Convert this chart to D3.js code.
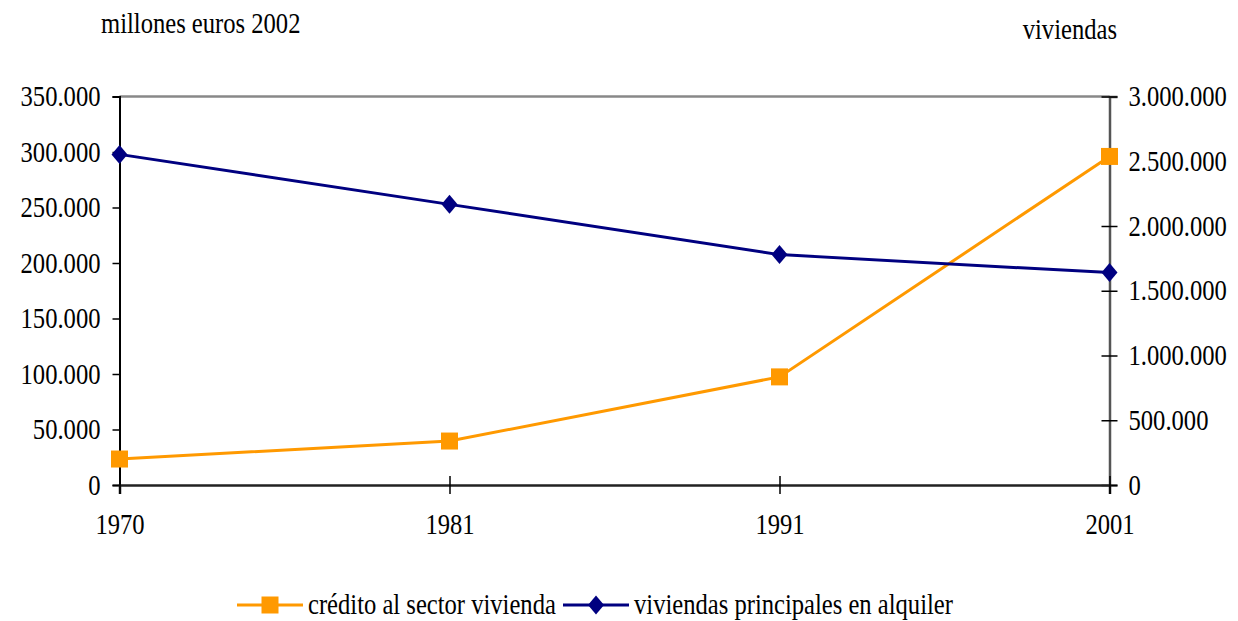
<!DOCTYPE html>
<html>
<head>
<meta charset="utf-8">
<script src="https://cdn.jsdelivr.net/npm/d3@7"></script>
<style>
  html, body { margin: 0; padding: 0; background: #fff; }
  svg { display: block; }
  svg text { font-family: "Liberation Serif", "Tinos", "DejaVu Serif", serif !important; fill: #000; }
</style>
</head>
<body>
<svg id="chart" width="1238" height="621"></svg>
<script>
// Years on the horizontal axis
const years = ["1970", "1981", "1991", "2001"];
// Housing credit, millions of 2002 euros (left axis)
const credito = [23400, 39600, 97400, 296000];
// Main dwellings under rent (right axis)
const viviendas = [2553000, 2167000, 1779000, 1640000];
// Axis ticks
const leftTicks = [0, 50000, 100000, 150000, 200000, 250000, 300000, 350000];
const rightTicks = [0, 500000, 1000000, 1500000, 2000000, 2500000, 3000000];

const svg = d3.select("#chart");
const m = { left: 119.5, right: 1109.5, top: 96.5, bottom: 485 };

const x = d3.scalePoint().domain(years).range([m.left, m.right]);
const yL = d3.scaleLinear().domain([0, 350000]).range([m.bottom, m.top]);
const yR = d3.scaleLinear().domain([0, 3000000]).range([m.bottom, m.top]);

const fmt = v => v === 0 ? "0" : d3.format(",")(v).replace(/,/g, ".");
const fontSize = 24.6;
const stretch = "scale(1,1.17)";   // glyphs are drawn slightly taller than wide

// Helper: free text label with its baseline at (tx, ty)
function label(tx, ty, str, anchor) {
  svg.append("g").attr("transform", `translate(${tx},${ty}) ${stretch}`)
    .append("text")
    .attr("font-size", fontSize)
    .attr("text-anchor", anchor || "start")
    .text(str);
}

// Top border of plot area
svg.append("line")
  .attr("x1", m.left).attr("x2", m.right)
  .attr("y1", m.top).attr("y2", m.top)
  .attr("stroke", "#888").attr("stroke-width", 2.5);

// Left axis
const gL = svg.append("g").attr("transform", `translate(${m.left},0)`)
  .call(d3.axisLeft(yL).tickValues(leftTicks).tickFormat(fmt).tickSize(7).tickPadding(12));
gL.select(".domain").attr("stroke", "#000").attr("stroke-width", 2);
gL.selectAll(".tick line").attr("stroke", "#000").attr("stroke-width", 1.5);
gL.selectAll("text").attr("font-size", fontSize).attr("transform", stretch);

// Right axis (ticks cross the axis line)
const gR = svg.append("g").attr("transform", `translate(${m.right},0)`)
  .call(d3.axisRight(yR).tickValues(rightTicks).tickFormat(fmt).tickSize(8).tickPadding(11));
gR.select(".domain").attr("stroke", "#555").attr("stroke-width", 2.5);
gR.selectAll(".tick line").attr("x1", -8).attr("stroke", "#000").attr("stroke-width", 1.5);
gR.selectAll("text").attr("font-size", fontSize).attr("transform", stretch);

// Bottom axis (ticks cross the axis line)
const gB = svg.append("g").attr("transform", `translate(0,${m.bottom})`)
  .call(d3.axisBottom(x).tickSize(9).tickPadding(15));
gB.select(".domain").attr("stroke", "#222").attr("stroke-width", 2.5);
gB.selectAll(".tick line").attr("y1", -9).attr("stroke", "#000").attr("stroke-width", 1.5);
gB.selectAll("text").attr("font-size", fontSize).attr("transform", stretch);

// Axis titles
label(101, 33, "millones euros 2002");
label(1117, 39, "viviendas", "end");

const orange = "#FF9900", navy = "#000080";

// Credit series
svg.append("path")
  .datum(credito)
  .attr("fill", "none").attr("stroke", orange).attr("stroke-width", 3)
  .attr("d", d3.line().x((d, i) => x(years[i])).y(d => yL(d)));
// Dwellings series
svg.append("path")
  .datum(viviendas)
  .attr("fill", "none").attr("stroke", navy).attr("stroke-width", 3)
  .attr("d", d3.line().x((d, i) => x(years[i])).y(d => yR(d)));

// Marker shapes
const sq = "M-8.5,-8.5H8.5V8.5H-8.5Z";
const dm = "M0,-9.5L8,0L0,9.5L-8,0Z";

svg.selectAll(".sq").data(credito).join("path")
  .attr("class", "sq")
  .attr("d", sq)
  .attr("transform", (d, i) => `translate(${x(years[i])},${yL(d)})`)
  .attr("fill", orange);

svg.selectAll(".dm").data(viviendas).join("path")
  .attr("class", "dm")
  .attr("d", dm)
  .attr("transform", (d, i) => `translate(${x(years[i])},${yR(d)})`)
  .attr("fill", navy);

// Legend
const legendY = 605;
const legend = [
  { label: "crédito al sector vivienda", color: orange, sym: sq, x0: 237 },
  { label: "viviendas principales en alquiler", color: navy, sym: dm, x0: 563 }
];
legend.forEach(l => {
  svg.append("line").attr("x1", l.x0).attr("x2", l.x0 + 66)
    .attr("y1", legendY).attr("y2", legendY)
    .attr("stroke", l.color).attr("stroke-width", 3);
  svg.append("path").attr("d", l.sym)
    .attr("transform", `translate(${l.x0 + 33},${legendY})`)
    .attr("fill", l.color);
  label(l.x0 + 71, legendY + 9, l.label);
});
</script>
</body>
</html>
